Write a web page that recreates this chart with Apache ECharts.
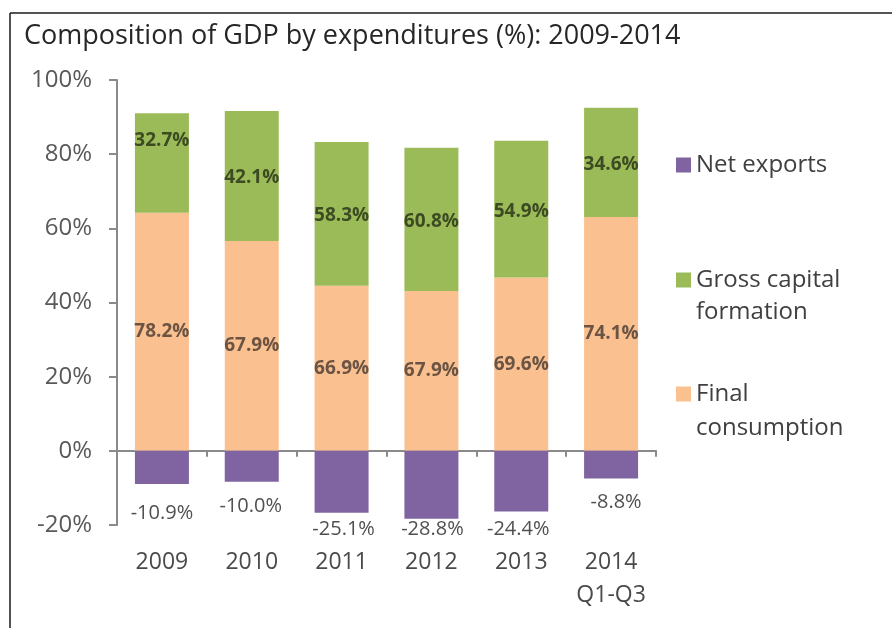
<!DOCTYPE html>
<html>
<head>
<meta charset="utf-8">
<script src="https://cdn.jsdelivr.net/npm/echarts@6/dist/echarts.min.js"></script>
<style>
  html, body { margin: 0; padding: 0; background: #ffffff; }
  #chart { width: 892px; height: 628px; }
</style>
</head>
<body>
<div id="chart"></div>
<script>
// Composition of GDP by expenditure components, in % of GDP
const years = ['2009', '2010', '2011', '2012', '2013', '2014\nQ1-Q3'];
const finalConsumption = [78.2, 67.9, 66.9, 67.9, 69.6, 74.1];
const grossCapitalFormation = [32.7, 42.1, 58.3, 60.8, 54.9, 34.6];
const netExports = [-10.9, -10.0, -25.1, -28.8, -24.4, -8.8];
const yTicks = ['-20%', '0%', '20%', '40%', '60%', '80%', '100%'];

// Each column shows the components as shares of their combined absolute size,
// while the labels keep the stated percentages of GDP.
const totals = years.map((_, i) =>
  Math.abs(finalConsumption[i]) + Math.abs(grossCapitalFormation[i]) + Math.abs(netExports[i]));
const share = (arr) => arr.map((v, i) => v / totals[i] * 100);

const FONT = '"Open Sans", Lato, sans-serif';
const fmt = (arr) => (p) => arr[p.dataIndex].toFixed(1) + '%';

// small label nudges (px) for readability
const gcfLabelShift = [[0, -22], [0, 2], [0, 2], [0, 2], [0, 2], [0, 2]];
const nxLabelShift = [[0, 29], [-1, 25], [2, 17], [1, 11], [-3, 18], [5, 24]];

const chart = echarts.init(document.getElementById('chart'), null, { renderer: 'canvas' });

const mkData = (vals, shifts) => vals.map((v, i) => ({
  value: v,
  label: shifts ? { offset: shifts[i] } : undefined
}));

const legendText = { fontFamily: FONT, fontSize: 24, color: '#404040' };

chart.setOption({
  animation: false,
  backgroundColor: '#ffffff',
  title: {
    text: 'Composition of GDP by expenditures (%): 2009-2014',
    left: 24, top: 23, padding: 0,
    textStyle: { fontFamily: FONT, fontSize: 27, fontWeight: 'normal', color: '#262626' }
  },
  legend: [
    {
      left: 676, top: 149, padding: 0, itemWidth: 15, itemHeight: 15, icon: 'rect',
      data: ['Net exports'],
      textStyle: Object.assign({ lineHeight: 32 }, legendText)
    },
    {
      left: 676, top: 232, padding: 0, itemWidth: 15, itemHeight: 15, icon: 'rect',
      data: ['Gross capital formation'],
      // leading blank line keeps the marker level with the first text line
      formatter: () => '\nGross capital\nformation',
      textStyle: Object.assign({ lineHeight: 32 }, legendText)
    },
    {
      left: 676, top: 343, padding: 0, itemWidth: 15, itemHeight: 15, icon: 'rect',
      data: ['Final consumption'],
      formatter: () => '\nFinal\nconsumption',
      textStyle: Object.assign({ lineHeight: 34 }, legendText)
    }
  ],
  grid: { left: 117, top: 80, width: 539, height: 445, containLabel: false, outerBoundsMode: 'none' },
  xAxis: {
    type: 'category',
    data: years,
    axisLine: { onZero: true, lineStyle: { color: '#8a8a8a', width: 2 } },
    axisTick: { show: true, length: 6, lineStyle: { color: '#8a8a8a', width: 2 } },
    axisLabel: {
      interval: 0, hideOverlap: false,
      margin: 21, fontFamily: FONT, fontSize: 23, color: '#4a4a4a', lineHeight: 33
    }
  },
  yAxis: {
    type: 'value',
    min: -20, max: 100, interval: 20,
    splitLine: { show: false },
    axisLine: { show: true, lineStyle: { color: '#8a8a8a', width: 2 } },
    axisTick: { show: true, length: 8, lineStyle: { color: '#8a8a8a', width: 2 } },
    axisLabel: {
      margin: 25, fontFamily: FONT, fontSize: 24, color: '#595959',
      formatter: (v) => yTicks[(v + 20) / 20]
    }
  },
  series: [
    {
      name: 'Final consumption', type: 'bar', stack: 'gdp', barWidth: 54,
      itemStyle: { color: '#FAC08F' },
      data: mkData(share(finalConsumption)),
      label: {
        show: true, position: 'inside', formatter: fmt(finalConsumption),
        fontFamily: FONT, fontSize: 19, fontWeight: 'bold', color: '#6b5444'
      }
    },
    {
      name: 'Gross capital formation', type: 'bar', stack: 'gdp', barWidth: 54,
      itemStyle: { color: '#9BBB59' },
      data: mkData(share(grossCapitalFormation), gcfLabelShift),
      label: {
        show: true, position: 'inside', formatter: fmt(grossCapitalFormation),
        fontFamily: FONT, fontSize: 19, fontWeight: 'bold', color: '#3d4b22'
      }
    },
    {
      name: 'Net exports', type: 'bar', stack: 'gdp', barWidth: 54,
      itemStyle: { color: '#8064A2' },
      data: mkData(share(netExports), nxLabelShift),
      label: {
        show: true, position: 'bottom', distance: 0, verticalAlign: 'middle',
        formatter: fmt(netExports),
        fontFamily: FONT, fontSize: 20, color: '#505050'
      }
    }
  ],
  graphic: [
    { type: 'line', shape: { x1: 10, y1: 13, x2: 892, y2: 13 }, style: { stroke: '#1a1a1a', lineWidth: 1.5 } },
    { type: 'line', shape: { x1: 10, y1: 13, x2: 10, y2: 628 }, style: { stroke: '#1a1a1a', lineWidth: 1.5 } }
  ]
});
</script>
</body>
</html>
